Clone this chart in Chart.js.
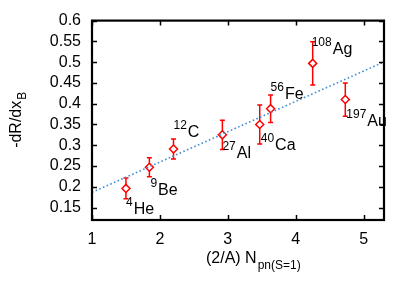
<!DOCTYPE html>
<html>
<head>
<meta charset="utf-8">
<script src="https://cdn.jsdelivr.net/npm/chart.js@4/dist/chart.umd.min.js"></script>
<style>
  html, body { margin: 0; padding: 0; background: #ffffff; }
  #wrap { width: 415px; height: 291px; }
</style>
</head>
<body>
<div id="wrap"><canvas id="c" width="415" height="291"></canvas></div>
<script>
// ---- data ----
const massNumbers = ['4', '9', '12', '27', '40', '56', '108', '197'];
const elements    = ['He', 'Be', 'C', 'Al', 'Ca', 'Fe', 'Ag', 'Au'];
const xValues     = [1.50, 1.845, 2.20, 2.92, 3.47, 3.63, 4.25, 4.73];
const yValues     = [0.196, 0.247, 0.291, 0.325, 0.350, 0.388, 0.497, 0.410];
const yErrors     = [0.025, 0.023, 0.024, 0.035, 0.047, 0.033, 0.052, 0.040];
const fitX        = [1.0, 5.3];
const fitY        = [0.1865, 0.5005];
const xTicks      = [1, 2, 3, 4, 5];
const yTicks      = [0.15, 0.2, 0.25, 0.3, 0.35, 0.4, 0.45, 0.5, 0.55, 0.6];

// label placement offsets (pixels, relative to each point)
const labelDx = [0, 1, 0, 0, 1, 0, -1, 1];
const labelDy = [21, 23, -16, 19, 21, -14, -14, 22];

const FONT = "'Liberation Sans', Arial, Helvetica, sans-serif";
const RED = '#ff0000';
const FIT = '#3f8fd6';
const BIG = 16, SMALL = 12;

const overlay = {
  id: 'overlay',
  beforeDatasetsDraw(chart) {
    const ctx = chart.ctx, xs = chart.scales.x, ys = chart.scales.y;
    ctx.save();
    ctx.strokeStyle = RED;
    ctx.lineWidth = 1.5;
    for (let i = 0; i < xValues.length; i++) {
      const px = xs.getPixelForValue(xValues[i]);
      const top = ys.getPixelForValue(yValues[i] + yErrors[i]);
      const bot = ys.getPixelForValue(yValues[i] - yErrors[i]);
      ctx.beginPath();
      ctx.moveTo(px, top); ctx.lineTo(px, bot);
      ctx.moveTo(px - 2.5, top); ctx.lineTo(px + 2.5, top);
      ctx.moveTo(px - 2.5, bot); ctx.lineTo(px + 2.5, bot);
      ctx.stroke();
    }
    ctx.restore();
  },
  afterDraw(chart) {
    const ctx = chart.ctx, xs = chart.scales.x, ys = chart.scales.y;
    const a = chart.chartArea;
    ctx.save();
    // inward ticks on all four sides
    ctx.strokeStyle = '#000';
    ctx.lineWidth = 1.5;
    const tl = 5;
    ctx.beginPath();
    xTicks.forEach(v => {
      const p = Math.round(xs.getPixelForValue(v)) + 0.5;
      ctx.moveTo(p, a.bottom); ctx.lineTo(p, a.bottom - tl);
      ctx.moveTo(p, a.top); ctx.lineTo(p, a.top + tl);
    });
    yTicks.forEach(v => {
      const p = Math.round(ys.getPixelForValue(v)) + 0.5;
      ctx.moveTo(a.left, p); ctx.lineTo(a.left + tl, p);
      ctx.moveTo(a.right, p); ctx.lineTo(a.right - tl, p);
    });
    ctx.stroke();
    // frame
    ctx.lineWidth = 2.2;
    ctx.strokeRect(a.left, a.top, a.right - a.left, a.bottom - a.top);

    // nucleus labels with superscript mass numbers
    ctx.fillStyle = '#000';
    ctx.textBaseline = 'middle';
    ctx.textAlign = 'left';
    for (let i = 0; i < xValues.length; i++) {
      const px = xs.getPixelForValue(xValues[i]) + labelDx[i];
      const py = ys.getPixelForValue(yValues[i]) + labelDy[i];
      ctx.font = SMALL + 'px ' + FONT;
      ctx.fillText(massNumbers[i], px, py - 7);
      const w = ctx.measureText(massNumbers[i]).width;
      ctx.font = BIG + 'px ' + FONT;
      ctx.fillText(elements[i], px + w + 1, py);
    }

    // x axis title: (2/A) N_pn(S=1)
    ctx.font = BIG + 'px ' + FONT;
    const main = '(2/A) N';
    const sub = 'pn(S=1)';
    const mw = ctx.measureText(main).width;
    ctx.font = SMALL + 'px ' + FONT;
    const sw = ctx.measureText(sub).width;
    const sx = 206;
    ctx.font = BIG + 'px ' + FONT;
    ctx.fillText(main, sx, 259);
    ctx.font = SMALL + 'px ' + FONT;
    ctx.fillText(sub, sx + mw + 1, 266);

    // y axis title: -dR/dx_B (rotated)
    ctx.save();
    ctx.translate(17, (a.top + a.bottom) / 2);
    ctx.rotate(-Math.PI / 2);
    ctx.font = BIG + 'px ' + FONT;
    const ym = '-dR/dx';
    const ymw = ctx.measureText(ym).width;
    ctx.font = SMALL + 'px ' + FONT;
    const ysw = ctx.measureText('B').width;
    const ysx = -(ymw + ysw) / 2;
    ctx.font = BIG + 'px ' + FONT;
    ctx.fillText(ym, ysx, 0);
    ctx.font = SMALL + 'px ' + FONT;
    ctx.fillText('B', ysx + ymw + 1, 6);
    ctx.restore();

    ctx.restore();
  }
};

new Chart(document.getElementById('c'), {
  type: 'scatter',
  data: {
    datasets: [
      {
        label: 'fit',
        data: fitX.map((x, i) => ({ x: x, y: fitY[i] })),
        showLine: true,
        borderColor: FIT,
        borderWidth: 1.6,
        borderDash: [1.6, 2.4],
        pointRadius: 0,
        fill: false
      },
      {
        label: 'data',
        data: xValues.map((x, i) => ({ x: x, y: yValues[i] })),
        pointStyle: 'rectRot',
        pointRadius: 4,
        pointBorderWidth: 1.5,
        pointBorderColor: RED,
        pointBackgroundColor: '#ffffff',
        showLine: false
      }
    ]
  },
  options: {
    responsive: false,
    animation: false,
    devicePixelRatio: 1,
    layout: { padding: { top: 20, right: 31, left: 0, bottom: 0 } },
    plugins: { legend: { display: false }, tooltip: { enabled: false } },
    scales: {
      x: {
        type: 'linear',
        min: 1, max: 5.3,
        grid: { display: false, drawTicks: false },
        border: { display: false },
        afterBuildTicks: s => { s.ticks = xTicks.map(v => ({ value: v })); },
        afterFit: s => { s.height = 71; },
        ticks: {
          color: '#000', padding: 10, autoSkip: false,
          font: { family: FONT, size: 16 },
          maxRotation: 0,
          callback: v => String(v)
        }
      },
      y: {
        type: 'linear',
        min: 0.12, max: 0.6,
        grid: { display: false, drawTicks: false },
        border: { display: false },
        afterBuildTicks: s => { s.ticks = yTicks.map(v => ({ value: v })); },
        afterFit: s => { s.width = 92; },
        ticks: {
          color: '#000', padding: 11, autoSkip: false,
          font: { family: FONT, size: 16 },
          callback: v => String(Math.round(v * 100) / 100)
        }
      }
    }
  },
  plugins: [overlay]
});
</script>
</body>
</html>
